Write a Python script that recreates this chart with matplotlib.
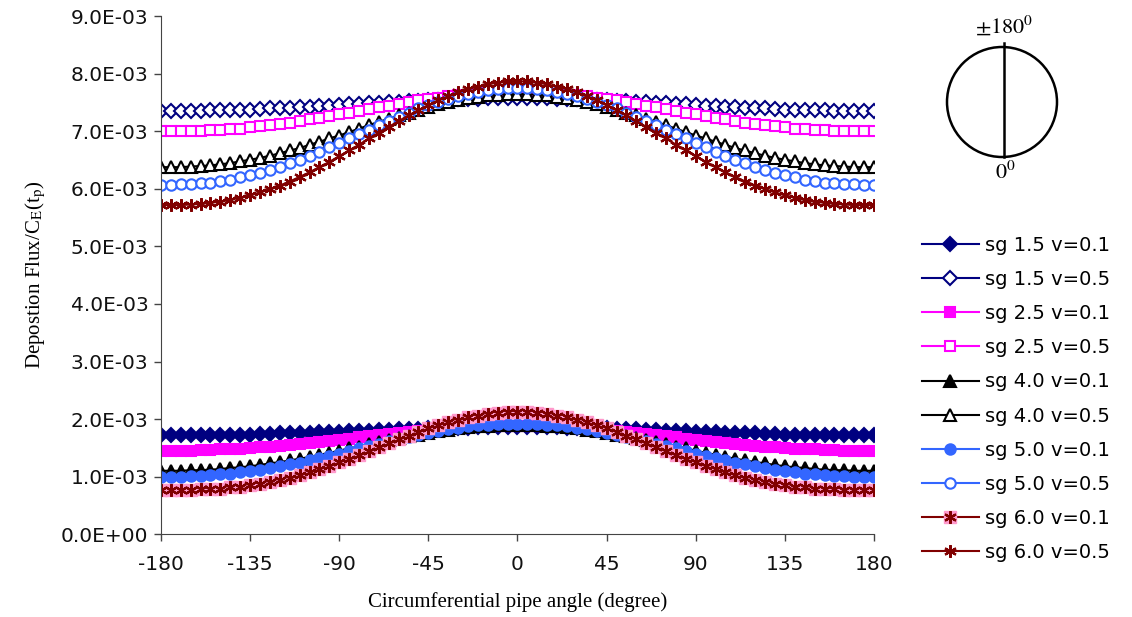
import numpy as np
import matplotlib
matplotlib.use('Agg')
import matplotlib.pyplot as plt
from matplotlib.lines import Line2D
from matplotlib.legend_handler import HandlerTuple
from matplotlib.patches import Circle
from matplotlib.ticker import FuncFormatter, MultipleLocator

plt.rcParams['mathtext.fontset'] = 'stix'
plt.rcParams['axes.unicode_minus'] = False

# circumferential angle (degree), one point every 5 degrees
angle = list(range(-180, 181, 5))

# deposition flux / C_E(t_p), in units of 1E-03
sg15_v01 = [1.72, 1.72, 1.72, 1.72, 1.72, 1.72, 1.73, 1.73, 1.73, 1.73, 1.74, 1.74,
            1.75, 1.75, 1.76, 1.76, 1.77, 1.78, 1.78, 1.79, 1.79, 1.80, 1.81, 1.81,
            1.82, 1.83, 1.83, 1.84, 1.84, 1.85, 1.85, 1.85, 1.86, 1.86, 1.86, 1.86, 1.86,
            1.86, 1.86, 1.86, 1.86, 1.85, 1.85, 1.85, 1.84, 1.84, 1.83, 1.83, 1.82,
            1.81, 1.81, 1.80, 1.79, 1.79, 1.78, 1.78, 1.77, 1.76, 1.76, 1.75, 1.75,
            1.74, 1.74, 1.73, 1.73, 1.73, 1.73, 1.72, 1.72, 1.72, 1.72, 1.72, 1.72]
sg15_v05 = [7.36, 7.36, 7.36, 7.36, 7.36, 7.37, 7.37, 7.37, 7.38, 7.38, 7.39, 7.40,
            7.40, 7.41, 7.42, 7.43, 7.44, 7.45, 7.46, 7.47, 7.48, 7.49, 7.50, 7.51,
            7.52, 7.53, 7.53, 7.54, 7.55, 7.56, 7.56, 7.57, 7.57, 7.58, 7.58, 7.58, 7.58,
            7.58, 7.58, 7.58, 7.57, 7.57, 7.56, 7.56, 7.55, 7.54, 7.53, 7.53, 7.52,
            7.51, 7.50, 7.49, 7.48, 7.47, 7.46, 7.45, 7.44, 7.43, 7.42, 7.41, 7.40,
            7.40, 7.39, 7.38, 7.38, 7.37, 7.37, 7.37, 7.36, 7.36, 7.36, 7.36, 7.36]
sg25_v01 = [1.45, 1.45, 1.45, 1.45, 1.46, 1.46, 1.47, 1.47, 1.48, 1.49, 1.51, 1.52,
            1.53, 1.55, 1.56, 1.58, 1.60, 1.62, 1.64, 1.66, 1.68, 1.70, 1.72, 1.74,
            1.75, 1.77, 1.79, 1.81, 1.82, 1.83, 1.85, 1.86, 1.87, 1.87, 1.88, 1.88, 1.88,
            1.88, 1.88, 1.87, 1.87, 1.86, 1.85, 1.83, 1.82, 1.81, 1.79, 1.77, 1.75,
            1.74, 1.72, 1.70, 1.68, 1.66, 1.64, 1.62, 1.60, 1.58, 1.56, 1.55, 1.53,
            1.52, 1.51, 1.49, 1.48, 1.47, 1.47, 1.46, 1.46, 1.45, 1.45, 1.45, 1.45]
sg25_v05 = [7.00, 7.00, 7.00, 7.01, 7.01, 7.02, 7.03, 7.04, 7.05, 7.07, 7.09, 7.11,
            7.13, 7.15, 7.18, 7.21, 7.24, 7.27, 7.30, 7.33, 7.36, 7.39, 7.42, 7.45,
            7.48, 7.51, 7.54, 7.56, 7.59, 7.61, 7.63, 7.64, 7.66, 7.67, 7.67, 7.68, 7.68,
            7.68, 7.67, 7.67, 7.66, 7.64, 7.63, 7.61, 7.59, 7.56, 7.54, 7.51, 7.48,
            7.45, 7.42, 7.39, 7.36, 7.33, 7.30, 7.27, 7.24, 7.21, 7.18, 7.15, 7.13,
            7.11, 7.09, 7.07, 7.05, 7.04, 7.03, 7.02, 7.01, 7.01, 7.00, 7.00, 7.00]
sg40_v01 = [1.10, 1.10, 1.10, 1.11, 1.11, 1.12, 1.13, 1.15, 1.16, 1.18, 1.20, 1.23,
            1.25, 1.28, 1.31, 1.34, 1.38, 1.41, 1.45, 1.49, 1.52, 1.56, 1.60, 1.63,
            1.67, 1.70, 1.73, 1.76, 1.79, 1.81, 1.84, 1.86, 1.87, 1.88, 1.89, 1.90, 1.90,
            1.90, 1.89, 1.88, 1.87, 1.86, 1.84, 1.81, 1.79, 1.76, 1.73, 1.70, 1.67,
            1.63, 1.60, 1.56, 1.52, 1.49, 1.45, 1.41, 1.38, 1.34, 1.31, 1.28, 1.25,
            1.23, 1.20, 1.18, 1.16, 1.15, 1.13, 1.12, 1.11, 1.11, 1.10, 1.10, 1.10]
sg40_v05 = [6.38, 6.38, 6.38, 6.39, 6.40, 6.41, 6.43, 6.45, 6.48, 6.51, 6.54, 6.58,
            6.62, 6.67, 6.71, 6.77, 6.82, 6.88, 6.93, 6.99, 7.05, 7.11, 7.17, 7.22,
            7.28, 7.33, 7.38, 7.43, 7.47, 7.51, 7.55, 7.58, 7.60, 7.63, 7.64, 7.65, 7.65,
            7.65, 7.64, 7.63, 7.60, 7.58, 7.55, 7.51, 7.47, 7.43, 7.38, 7.33, 7.28,
            7.22, 7.17, 7.11, 7.05, 6.99, 6.93, 6.88, 6.82, 6.77, 6.71, 6.67, 6.62,
            6.58, 6.54, 6.51, 6.48, 6.45, 6.43, 6.41, 6.40, 6.39, 6.38, 6.38, 6.38]
sg50_v01 = [1.00, 1.00, 1.00, 1.01, 1.01, 1.02, 1.04, 1.05, 1.07, 1.09, 1.12, 1.14,
            1.18, 1.21, 1.24, 1.28, 1.32, 1.36, 1.40, 1.44, 1.49, 1.53, 1.57, 1.61,
            1.65, 1.69, 1.73, 1.76, 1.79, 1.82, 1.85, 1.87, 1.89, 1.90, 1.91, 1.92, 1.92,
            1.92, 1.91, 1.90, 1.89, 1.87, 1.85, 1.82, 1.79, 1.76, 1.73, 1.69, 1.65,
            1.61, 1.57, 1.53, 1.49, 1.44, 1.40, 1.36, 1.32, 1.28, 1.24, 1.21, 1.18,
            1.14, 1.12, 1.09, 1.07, 1.05, 1.04, 1.02, 1.01, 1.01, 1.00, 1.00, 1.00]
sg50_v05 = [6.07, 6.07, 6.08, 6.08, 6.10, 6.11, 6.14, 6.16, 6.20, 6.24, 6.28, 6.33,
            6.39, 6.45, 6.51, 6.58, 6.65, 6.73, 6.80, 6.88, 6.96, 7.03, 7.11, 7.19,
            7.26, 7.33, 7.40, 7.46, 7.52, 7.57, 7.62, 7.66, 7.69, 7.72, 7.74, 7.75, 7.75,
            7.75, 7.74, 7.72, 7.69, 7.66, 7.62, 7.57, 7.52, 7.46, 7.40, 7.33, 7.26,
            7.19, 7.11, 7.03, 6.96, 6.88, 6.80, 6.73, 6.65, 6.58, 6.51, 6.45, 6.39,
            6.33, 6.28, 6.24, 6.20, 6.16, 6.14, 6.11, 6.10, 6.08, 6.08, 6.07, 6.07]
sg60_v01 = [0.77, 0.77, 0.77, 0.77, 0.78, 0.78, 0.79, 0.81, 0.82, 0.85, 0.87, 0.90,
            0.94, 0.98, 1.03, 1.08, 1.13, 1.19, 1.25, 1.31, 1.38, 1.44, 1.51, 1.58,
            1.65, 1.71, 1.78, 1.84, 1.89, 1.94, 1.99, 2.03, 2.06, 2.09, 2.11, 2.12, 2.12,
            2.12, 2.11, 2.09, 2.06, 2.03, 1.99, 1.94, 1.89, 1.84, 1.78, 1.71, 1.65,
            1.58, 1.51, 1.44, 1.38, 1.31, 1.25, 1.19, 1.13, 1.08, 1.03, 0.98, 0.94,
            0.90, 0.87, 0.85, 0.82, 0.81, 0.79, 0.78, 0.78, 0.77, 0.77, 0.77, 0.77]
sg60_v05 = [5.72, 5.72, 5.72, 5.73, 5.74, 5.76, 5.78, 5.81, 5.85, 5.89, 5.94, 6.00,
            6.06, 6.13, 6.21, 6.29, 6.38, 6.47, 6.57, 6.67, 6.77, 6.88, 6.98, 7.08,
            7.18, 7.28, 7.37, 7.46, 7.54, 7.61, 7.68, 7.74, 7.78, 7.82, 7.85, 7.87, 7.87,
            7.87, 7.85, 7.82, 7.78, 7.74, 7.68, 7.61, 7.54, 7.46, 7.37, 7.28, 7.18,
            7.08, 6.98, 6.88, 6.77, 6.67, 6.57, 6.47, 6.38, 6.29, 6.21, 6.13, 6.06,
            6.00, 5.94, 5.89, 5.85, 5.81, 5.78, 5.76, 5.74, 5.73, 5.72, 5.72, 5.72]

labels = ['sg 1.5 v=0.1', 'sg 1.5 v=0.5', 'sg 2.5 v=0.1', 'sg 2.5 v=0.5',
          'sg 4.0 v=0.1', 'sg 4.0 v=0.5', 'sg 5.0 v=0.1', 'sg 5.0 v=0.5',
          'sg 6.0 v=0.1', 'sg 6.0 v=0.5']

NAVY = '#000080'
MAGENTA = '#FF00FF'
BLUE = '#3366FF'
DARKRED = '#800000'
PINK = '#FF99CC'
STAR = (6, 2, 0)

fig = plt.figure(figsize=(11.32, 6.17), dpi=100)
ax = fig.add_axes([0.1422, 0.1345, 0.6299, 0.8388])

x = np.array(angle)
sc = 1e-3
handles = []

def add(y, color, marker, ms, filled):
    kw = dict(color=color, lw=1.5, marker=marker, ms=ms, mew=1.5, mec=color,
              mfc=color if filled else 'white')
    ax.plot(x, np.array(y) * sc, **kw)
    handles.append(Line2D([], [], **kw))

add(sg15_v01, NAVY, 'D', 6.8, True)
add(sg15_v05, NAVY, 'D', 6.8, False)
add(sg25_v01, MAGENTA, 's', 7.5, True)
add(sg25_v05, MAGENTA, 's', 7.5, False)
add(sg40_v01, 'black', '^', 8.0, True)
add(sg40_v05, 'black', '^', 8.0, False)
add(sg50_v01, BLUE, 'o', 7.5, True)
add(sg50_v05, BLUE, 'o', 7.5, False)

# sg 6.0 v=0.1: red asterisk on a pink square
ax.plot(x, np.array(sg60_v01) * sc, color=DARKRED, lw=1.5, marker='s', ms=9,
        mfc=PINK, mec=PINK)
ax.plot(x, np.array(sg60_v01) * sc, ls='none', marker=STAR, ms=9, mec=DARKRED, mew=1.6)
handles.append((Line2D([], [], color=DARKRED, lw=1.5),
                Line2D([], [], ls='none', marker='s', ms=9, mfc=PINK, mec=PINK),
                Line2D([], [], ls='none', marker=STAR, ms=9, mec=DARKRED, mew=1.6)))

ax.plot(x, np.array(sg60_v05) * sc, color=DARKRED, lw=1.5, marker=STAR, ms=9,
        mec=DARKRED, mew=1.6)
handles.append(Line2D([], [], color=DARKRED, lw=1.5, marker=STAR, ms=9,
                      mec=DARKRED, mew=1.6))

ax.set_xlim(-180, 180)
ax.set_ylim(0, 9e-3)
ax.xaxis.set_major_locator(MultipleLocator(45))
ax.yaxis.set_major_locator(MultipleLocator(1e-3))
ax.yaxis.set_major_formatter(FuncFormatter(lambda v, p: f'{v:.1E}'))
for s in ['top', 'right']:
    ax.spines[s].set_visible(False)
for s in ['left', 'bottom']:
    ax.spines[s].set_color('#444444')
ax.tick_params(direction='out', length=5, width=1, color='#444444',
               labelsize=14.5, labelcolor='#111111', pad=4)
ax.tick_params(axis='x', pad=10)
ax.set_xlabel('Circumferential pipe angle (degree)', family='Liberation Serif',
              fontsize=15, labelpad=13)
ax.set_ylabel(r'Depostion Flux/C$_\mathrm{E}$(t$_\mathrm{p}$)', family='Liberation Serif',
              fontsize=15, labelpad=9)

fig.legend(handles, labels, loc='center left', bbox_to_anchor=(0.806, 0.3533),
           frameon=False, fontsize=14, borderpad=0, handlelength=2.9,
           handletextpad=0.35, labelspacing=0.78,
           handler_map={tuple: HandlerTuple(ndivide=1, pad=0)})

# pipe cross-section sketch
ins = fig.add_axes([(1002 - 100) / 1132, (617 - 102 - 100) / 617, 200 / 1132, 200 / 617])
ins.set_xlim(-100, 100)
ins.set_ylim(-100, 100)
ins.set_aspect('equal')
ins.axis('off')
ins.add_patch(Circle((0, 0), 55, fill=False, lw=1.8, color='black'))
ins.plot([2, 2], [-55, 59], color='black', lw=1.8)
ins.text(2, 77, r'$\pm180^0$', ha='center', va='center', fontsize=16)
ins.text(3, -70, r'$0^0$', ha='center', va='center', fontsize=16)

fig.savefig('out.png', dpi=100)
